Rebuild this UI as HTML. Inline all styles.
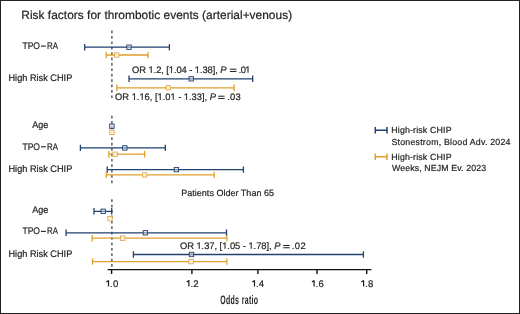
<!DOCTYPE html>
<html><head><meta charset="utf-8"><style>
html,body{margin:0;padding:0;background:#fff;}
body{width:520px;height:314px;overflow:hidden;position:relative;}
.frame{position:absolute;left:0;top:0;width:518px;height:312px;border:1px solid #222;background:#fff;}
svg{position:absolute;left:0;top:0;font-family:"Liberation Sans", sans-serif;will-change:transform;text-rendering:geometricPrecision;}
</style></head><body>
<div class="frame"></div>
<svg width="520" height="314" viewBox="0 0 520 314">
<text id="title" x="21.3" y="18.6" font-size="11.9" fill="#1e1e1e" stroke="#1e1e1e" stroke-width="0.2" textLength="270.8" lengthAdjust="spacing">Risk factors for thrombotic events (arterial+venous)</text>
<text id="l1" x="22.48" y="48.8" font-size="9.6" fill="#1e1e1e" stroke="#1e1e1e" stroke-width="0.2" textLength="17.55" lengthAdjust="spacingAndGlyphs">TPO</text>
<text id="l1b" x="47.08" y="48.8" font-size="9.6" fill="#1e1e1e" stroke="#1e1e1e" stroke-width="0.2" textLength="10.98" lengthAdjust="spacingAndGlyphs">RA</text>
<text id="l2" x="8.48" y="80.7" font-size="9.6" fill="#1e1e1e" stroke="#1e1e1e" stroke-width="0.2" textLength="63.79" lengthAdjust="spacingAndGlyphs">High Risk CHIP</text>
<text id="l3" x="32.3" y="127.6" font-size="9.6" fill="#1e1e1e" stroke="#1e1e1e" stroke-width="0.2" textLength="16.11" lengthAdjust="spacingAndGlyphs">Age</text>
<text id="l4" x="22.48" y="149.5" font-size="9.6" fill="#1e1e1e" stroke="#1e1e1e" stroke-width="0.2" textLength="17.55" lengthAdjust="spacingAndGlyphs">TPO</text>
<text id="l4b" x="47.08" y="149.5" font-size="9.6" fill="#1e1e1e" stroke="#1e1e1e" stroke-width="0.2" textLength="10.98" lengthAdjust="spacingAndGlyphs">RA</text>
<text id="l5" x="8.48" y="171.9" font-size="9.6" fill="#1e1e1e" stroke="#1e1e1e" stroke-width="0.2" textLength="63.79" lengthAdjust="spacingAndGlyphs">High Risk CHIP</text>
<text id="l6" x="32.3" y="212.5" font-size="9.6" fill="#1e1e1e" stroke="#1e1e1e" stroke-width="0.2" textLength="16.11" lengthAdjust="spacingAndGlyphs">Age</text>
<text id="l7" x="22.48" y="234.1" font-size="9.6" fill="#1e1e1e" stroke="#1e1e1e" stroke-width="0.2" textLength="17.55" lengthAdjust="spacingAndGlyphs">TPO</text>
<text id="l7b" x="47.08" y="234.1" font-size="9.6" fill="#1e1e1e" stroke="#1e1e1e" stroke-width="0.2" textLength="10.98" lengthAdjust="spacingAndGlyphs">RA</text>
<text id="l8" x="8.48" y="256.6" font-size="9.6" fill="#1e1e1e" stroke="#1e1e1e" stroke-width="0.2" textLength="63.79" lengthAdjust="spacingAndGlyphs">High Risk CHIP</text>
<text id="a1" x="132.1" y="73.1" font-size="9.4" fill="#1e1e1e" stroke="#1e1e1e" stroke-width="0.2" textLength="94.42" lengthAdjust="spacing">OR 1.2, [1.04 - 1.38], <tspan font-style="italic">P</tspan></text>
<text id="a1b" x="238.75" y="73.1" font-size="9.4" fill="#1e1e1e" stroke="#1e1e1e" stroke-width="0.2" textLength="11.7" lengthAdjust="spacing">.01</text>
<text id="a2" x="115.1" y="100.1" font-size="9.4" fill="#1e1e1e" stroke="#1e1e1e" stroke-width="0.2" textLength="100.84" lengthAdjust="spacing">OR 1.16, [1.01 - 1.33], <tspan font-style="italic">P</tspan></text>
<text id="a2b" x="227.15" y="100.1" font-size="9.4" fill="#1e1e1e" stroke="#1e1e1e" stroke-width="0.2" textLength="13.5" lengthAdjust="spacing">.03</text>
<text id="a3" x="179.9" y="249.4" font-size="9.4" fill="#1e1e1e" stroke="#1e1e1e" stroke-width="0.2" textLength="100.54" lengthAdjust="spacing">OR 1.37, [1.05 - 1.78], <tspan font-style="italic">P</tspan></text>
<text id="a3b" x="291.75" y="249.4" font-size="9.4" fill="#1e1e1e" stroke="#1e1e1e" stroke-width="0.2" textLength="13.9" lengthAdjust="spacing">.02</text>
<text id="pat" x="181.25" y="195.6" font-size="9.0" fill="#1e1e1e" stroke="#1e1e1e" stroke-width="0.2" textLength="92.74" lengthAdjust="spacing">Patients Older Than 65</text>
<text id="g1" x="391.25" y="132.9" font-size="8.8" fill="#1e1e1e" stroke="#1e1e1e" stroke-width="0.2" textLength="60.27" lengthAdjust="spacing">High-risk CHIP</text>
<text id="g2" x="391.5" y="144.6" font-size="8.8" fill="#1e1e1e" stroke="#1e1e1e" stroke-width="0.2" textLength="119.0" lengthAdjust="spacing">Stonestrom, Blood Adv. 2024</text>
<text id="g3" x="391.25" y="159.6" font-size="8.8" fill="#1e1e1e" stroke="#1e1e1e" stroke-width="0.2" textLength="60.27" lengthAdjust="spacing">High-risk CHIP</text>
<text id="g4" x="392.0" y="171.0" font-size="8.8" fill="#1e1e1e" stroke="#1e1e1e" stroke-width="0.2" textLength="94.13" lengthAdjust="spacing">Weeks, NEJM Ev. 2023</text>
<text id="t0" x="110.05" y="286.5" font-size="9.5" fill="#1e1e1e" stroke="#1e1e1e" stroke-width="0.2" textLength="8.19" lengthAdjust="spacing">.0</text>
<text id="t1" x="190.45" y="286.5" font-size="9.5" fill="#1e1e1e" stroke="#1e1e1e" stroke-width="0.2" textLength="8.09" lengthAdjust="spacing">.2</text>
<text id="t2" x="256.05" y="286.5" font-size="9.5" fill="#1e1e1e" stroke="#1e1e1e" stroke-width="0.2" textLength="7.94" lengthAdjust="spacing">.4</text>
<text id="t3" x="315.65" y="286.5" font-size="9.5" fill="#1e1e1e" stroke="#1e1e1e" stroke-width="0.2" textLength="8.19" lengthAdjust="spacing">.6</text>
<text id="t4" x="365.15" y="286.5" font-size="9.5" fill="#1e1e1e" stroke="#1e1e1e" stroke-width="0.2" textLength="8.19" lengthAdjust="spacing">.8</text>
<text transform="translate(220.15,303.9) scale(0.566,1)" font-size="12.3" font-weight="bold" letter-spacing="0.62" fill="#1e1e1e">Odds ratio</text>
<path d="M108.50 286.6V280.25M108.60 280.5L106.35 282.1" stroke="#1e1e1e" stroke-width="1.2" fill="none"/>
<path d="M188.90 286.6V280.25M189.00 280.5L186.75 282.1" stroke="#1e1e1e" stroke-width="1.2" fill="none"/>
<path d="M254.50 286.6V280.25M254.60 280.5L252.35 282.1" stroke="#1e1e1e" stroke-width="1.2" fill="none"/>
<path d="M314.10 286.6V280.25M314.20 280.5L311.95 282.1" stroke="#1e1e1e" stroke-width="1.2" fill="none"/>
<path d="M363.60 286.6V280.25M363.70 280.5L361.45 282.1" stroke="#1e1e1e" stroke-width="1.2" fill="none"/>
<rect x="229.9" y="68.70" width="6.60" height="1.0" fill="#1e1e1e"/>
<rect x="229.9" y="70.95" width="6.60" height="1.0" fill="#1e1e1e"/>
<rect x="218.2" y="95.70" width="6.40" height="1.0" fill="#1e1e1e"/>
<rect x="218.2" y="97.95" width="6.40" height="1.0" fill="#1e1e1e"/>
<rect x="283.2" y="245.00" width="6.40" height="1.0" fill="#1e1e1e"/>
<rect x="283.2" y="247.25" width="6.40" height="1.0" fill="#1e1e1e"/>
<rect x="41.0" y="45.55" width="4.8" height="1.1" fill="#1e1e1e"/>
<rect x="41.0" y="146.25" width="4.8" height="1.1" fill="#1e1e1e"/>
<rect x="41.0" y="230.85" width="4.8" height="1.1" fill="#1e1e1e"/>
<line x1="111.9" y1="30.6" x2="111.9" y2="98.4" stroke="#505050" stroke-width="1.4" stroke-dasharray="2.7 2.7"/>
<line x1="111.9" y1="115.7" x2="111.9" y2="184" stroke="#505050" stroke-width="1.4" stroke-dasharray="2.7 2.7"/>
<line x1="111.9" y1="199.3" x2="111.9" y2="269" stroke="#505050" stroke-width="1.4" stroke-dasharray="2.7 2.7"/>
<line x1="107.6" y1="269.6" x2="371.4" y2="269.6" stroke="#111" stroke-width="1.4"/>
<line x1="111.6" y1="269.6" x2="111.6" y2="274" stroke="#111" stroke-width="1.4"/>
<line x1="191.9" y1="269.6" x2="191.9" y2="274" stroke="#111" stroke-width="1.4"/>
<line x1="257.9" y1="269.6" x2="257.9" y2="274" stroke="#111" stroke-width="1.4"/>
<line x1="317" y1="269.6" x2="317" y2="274" stroke="#111" stroke-width="1.4"/>
<line x1="366.7" y1="269.6" x2="366.7" y2="274" stroke="#111" stroke-width="1.4"/>
<path d="M84.7 47.2H169.4M84.7 44.00V50.40M169.4 44.00V50.40" stroke="#21426e" stroke-width="1.3" fill="none"/>
<rect x="126.80" y="45.00" width="4.4" height="4.4" fill="rgba(200,214,232,0.55)" stroke="#21426e" stroke-width="0.9"/>
<path d="M106.2 55.0H148M106.2 51.80V58.20M148 51.80V58.20" stroke="#e19f2c" stroke-width="1.3" fill="none"/>
<rect x="114.50" y="52.80" width="4.4" height="4.4" fill="#fdf3d0" stroke="#dca24a" stroke-width="0.8"/>
<path d="M129 78.8H252.7M129 75.60V82.00M252.7 75.60V82.00" stroke="#21426e" stroke-width="1.3" fill="none"/>
<rect x="189.00" y="76.60" width="4.4" height="4.4" fill="rgba(200,214,232,0.55)" stroke="#21426e" stroke-width="0.9"/>
<path d="M116.9 87.8H234.1M116.9 84.60V91.00M234.1 84.60V91.00" stroke="#e19f2c" stroke-width="1.3" fill="none"/>
<rect x="166.10" y="85.60" width="4.4" height="4.4" fill="#fdf3d0" stroke="#dca24a" stroke-width="0.8"/>
<rect x="109.70" y="124.00" width="4.4" height="4.4" fill="rgba(200,214,232,0.55)" stroke="#21426e" stroke-width="0.9"/>
<rect x="109.80" y="130.20" width="4.4" height="4.4" fill="#fdf3d0" stroke="#dca24a" stroke-width="0.8"/>
<path d="M80.4 147.9H165.3M80.4 144.70V151.10M165.3 144.70V151.10" stroke="#21426e" stroke-width="1.3" fill="none"/>
<rect x="122.60" y="145.70" width="4.4" height="4.4" fill="rgba(200,214,232,0.55)" stroke="#21426e" stroke-width="0.9"/>
<path d="M108.8 154.2H144.6M108.8 151.00V157.40M144.6 151.00V157.40" stroke="#e19f2c" stroke-width="1.3" fill="none"/>
<rect x="112.90" y="152.00" width="4.4" height="4.4" fill="#fdf3d0" stroke="#dca24a" stroke-width="0.8"/>
<path d="M107.2 169.6H243.4M107.2 166.40V172.80M243.4 166.40V172.80" stroke="#21426e" stroke-width="1.3" fill="none"/>
<rect x="174.20" y="167.40" width="4.4" height="4.4" fill="rgba(200,214,232,0.55)" stroke="#21426e" stroke-width="0.9"/>
<path d="M106.3 174.9H214.2M106.3 171.70V178.10M214.2 171.70V178.10" stroke="#e19f2c" stroke-width="1.3" fill="none"/>
<rect x="142.40" y="172.70" width="4.4" height="4.4" fill="#fdf3d0" stroke="#dca24a" stroke-width="0.8"/>
<path d="M94 211.3H111.7M94 208.10V214.50M111.7 208.10V214.50" stroke="#21426e" stroke-width="1.3" fill="none"/>
<rect x="101.00" y="209.10" width="4.4" height="4.4" fill="rgba(200,214,232,0.55)" stroke="#21426e" stroke-width="0.9"/>
<rect x="107.80" y="216.50" width="4.4" height="4.4" fill="#fdf3d0" stroke="#dca24a" stroke-width="0.8"/>
<path d="M66.1 232.8H226.5M66.1 229.60V236.00M226.5 229.60V236.00" stroke="#21426e" stroke-width="1.3" fill="none"/>
<rect x="143.20" y="230.60" width="4.4" height="4.4" fill="rgba(200,214,232,0.55)" stroke="#21426e" stroke-width="0.9"/>
<path d="M92.2 238.2H226.9M92.2 235.00V241.40M226.9 235.00V241.40" stroke="#e19f2c" stroke-width="1.3" fill="none"/>
<rect x="120.50" y="236.00" width="4.4" height="4.4" fill="#fdf3d0" stroke="#dca24a" stroke-width="0.8"/>
<path d="M133.4 254.5H363.4M133.4 251.30V257.70M363.4 251.30V257.70" stroke="#21426e" stroke-width="1.3" fill="none"/>
<rect x="189.30" y="252.30" width="4.4" height="4.4" fill="rgba(200,214,232,0.55)" stroke="#21426e" stroke-width="0.9"/>
<path d="M92.5 261.65H226.9M92.5 258.45V264.85M226.9 258.45V264.85" stroke="#e19f2c" stroke-width="1.3" fill="none"/>
<rect x="188.90" y="259.45" width="4.4" height="4.4" fill="#fdf3d0" stroke="#dca24a" stroke-width="0.8"/>
<path d="M375.3 130.2H387M375.3 126.99999999999999V133.39999999999998M387 126.99999999999999V133.39999999999998" stroke="#21426e" stroke-width="1.5" fill="none"/>
<path d="M375.3 156.7H387M375.3 153.5V159.89999999999998M387 153.5V159.89999999999998" stroke="#e19f2c" stroke-width="1.5" fill="none"/>
<rect x="149.02" y="72" width="1.80" height="1.45" fill="#fff"/>
<rect x="151.76" y="72" width="1.75" height="1.45" fill="#fff"/>
<rect x="169.34" y="72" width="1.80" height="1.45" fill="#fff"/>
<rect x="172.09" y="72" width="1.75" height="1.45" fill="#fff"/>
<rect x="195.31" y="72" width="1.80" height="1.45" fill="#fff"/>
<rect x="198.05" y="72" width="1.75" height="1.45" fill="#fff"/>
<rect x="132.18" y="99" width="1.80" height="1.45" fill="#fff"/>
<rect x="134.92" y="99" width="1.75" height="1.45" fill="#fff"/>
<rect x="139.93" y="99" width="1.80" height="1.45" fill="#fff"/>
<rect x="142.68" y="99" width="1.75" height="1.45" fill="#fff"/>
<rect x="158.01" y="99" width="1.80" height="1.45" fill="#fff"/>
<rect x="160.75" y="99" width="1.75" height="1.45" fill="#fff"/>
<rect x="170.94" y="99" width="1.80" height="1.45" fill="#fff"/>
<rect x="173.68" y="99" width="1.75" height="1.45" fill="#fff"/>
<rect x="184.35" y="99" width="1.80" height="1.45" fill="#fff"/>
<rect x="187.10" y="99" width="1.75" height="1.45" fill="#fff"/>
<rect x="196.94" y="248" width="1.80" height="1.75" fill="#fff"/>
<rect x="199.69" y="248" width="1.75" height="1.75" fill="#fff"/>
<rect x="222.68" y="248" width="1.80" height="1.75" fill="#fff"/>
<rect x="225.43" y="248" width="1.75" height="1.75" fill="#fff"/>
<rect x="248.94" y="248" width="1.80" height="1.75" fill="#fff"/>
<rect x="251.68" y="248" width="1.75" height="1.75" fill="#fff"/>
<rect x="245.74" y="72" width="1.80" height="1.45" fill="#fff"/>
<rect x="248.48" y="72" width="1.75" height="1.45" fill="#fff"/>
</svg>
</body></html>
